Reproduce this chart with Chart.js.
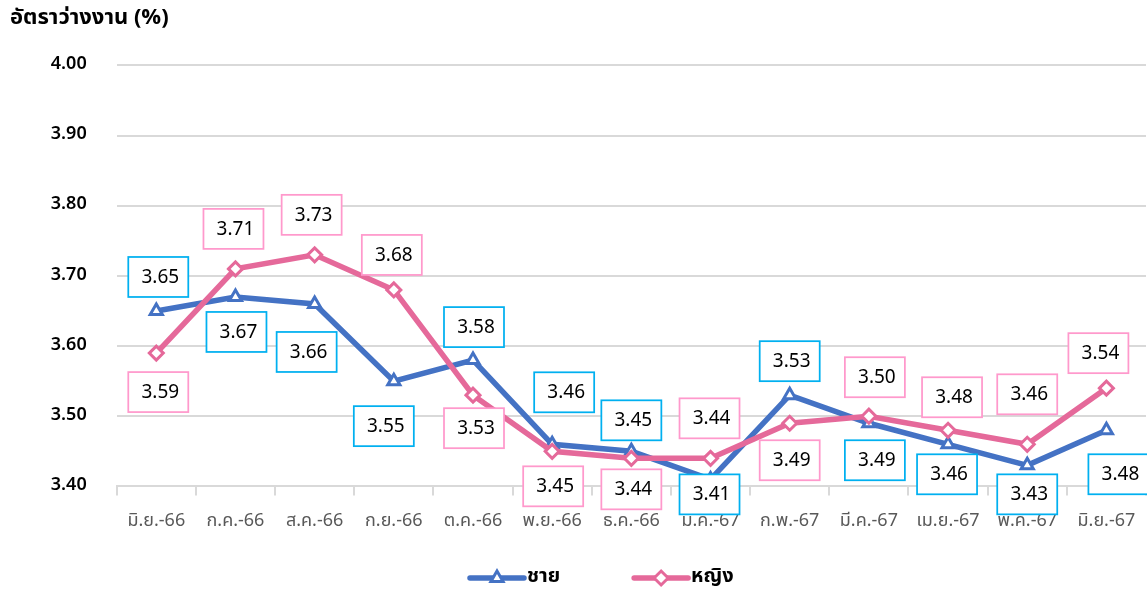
<!DOCTYPE html>
<html>
<head>
<meta charset="utf-8">
<script src="https://cdn.jsdelivr.net/npm/chart.js@4.4.1/dist/chart.umd.min.js"></script>
<style>
  html, body { margin: 0; padding: 0; background: #fff; overflow: hidden; }
  #wrap { width: 1156px; height: 591px; }
</style>
</head>
<body>
<div id="wrap"><canvas id="rateChart"></canvas></div>
<script>
// Unemployment rate by sex, Jun-66 .. Jun-67
const months = ['มิ.ย.-66', 'ก.ค.-66', 'ส.ค.-66', 'ก.ย.-66', 'ต.ค.-66', 'พ.ย.-66', 'ธ.ค.-66',
                'ม.ค.-67', 'ก.พ.-67', 'มี.ค.-67', 'เม.ย.-67', 'พ.ค.-67', 'มิ.ย.-67'];
const maleRates = [3.65, 3.67, 3.66, 3.55, 3.58, 3.46, 3.45, 3.41, 3.53, 3.49, 3.46, 3.43, 3.48];
const femaleRates = [3.59, 3.71, 3.73, 3.68, 3.53, 3.45, 3.44, 3.44, 3.49, 3.50, 3.48, 3.46, 3.54];
const yTicks = [3.40, 3.50, 3.60, 3.70, 3.80, 3.90, 4.00];

// label box offsets from each point (px), as placed in the original
const maleBoxDx = [2, 1, -8, -10, 1, 12, 0, -1, 0, 6, -1, 0, 12];
const maleBoxDy = [-34, 35, 48, 45, -33, -52, -31, 15, -34, 37, 30, 29, 44];
const femaleBoxDx = [2, -2, -3, -2, 1, 1, 0, -1, 0, 6, 4, 0, -8];
const femaleBoxDy = [39, -40, -40, -35, 33, 35, 31, -40, 37, -39, -33, -50, -35];

const FONT = "'Noto Sans Thai', 'Leelawadee UI', Tahoma, 'Noto Sans', sans-serif";
const BLUE = '#4472c4';
const PINK = '#e5699a';

// boxed value labels
const boxLabels = {
    id: 'boxLabels',
    afterDatasetsDraw(chart) {
        const ctx = chart.ctx;
        ctx.save();
        chart.data.datasets.forEach((ds, di) => {
            const meta = chart.getDatasetMeta(di);
            meta.data.forEach((pt, i) => {
                const cx = pt.x + ds.boxDx[i];
                const cy = pt.y + ds.boxDy[i];
                ctx.fillStyle = '#ffffff';
                ctx.strokeStyle = ds.boxColor;
                ctx.lineWidth = 1.75;
                ctx.fillRect(cx - 30, cy - 20, 60, 40);
                ctx.strokeRect(cx - 30, cy - 20, 60, 40);
                ctx.fillStyle = '#000000';
                ctx.font = '19px ' + FONT;
                ctx.textAlign = 'center';
                ctx.textBaseline = 'middle';
                ctx.fillText(ds.data[i].toFixed(2), cx + 2, cy + 2);
            });
        });
        ctx.restore();
    }
};

// legend with line + marker, like the original
const lineLegend = {
    id: 'lineLegend',
    afterDraw(chart) {
        const ctx = chart.ctx;
        const y = 578;
        let x = 470;
        ctx.save();
        chart.data.datasets.forEach(ds => {
            ctx.strokeStyle = ds.borderColor;
            ctx.lineWidth = 5.5;
            ctx.lineCap = 'round';
            ctx.beginPath();
            ctx.moveTo(x, y);
            ctx.lineTo(x + 54, y);
            ctx.stroke();
            ctx.fillStyle = '#ffffff';
            ctx.lineWidth = 3;
            Chart.helpers.drawPoint(ctx, { pointStyle: ds.pointStyle, radius: 7, rotation: 0, borderWidth: 3 }, x + 27, y);
            ctx.fillStyle = '#000000';
            ctx.font = 'bold 20px ' + FONT;
            ctx.textAlign = 'left';
            ctx.textBaseline = 'middle';
            ctx.fillText(ds.label, x + 57, y);
            x += 57 + ctx.measureText(ds.label).width + 74;
        });
        ctx.restore();
    }
};

const ctx = document.getElementById('rateChart').getContext('2d');
new Chart(ctx, {
    type: 'line',
    data: {
        labels: months,
        datasets: [
            {
                label: 'ชาย',
                data: maleRates,
                borderColor: BLUE,
                borderWidth: 5.5,
                pointStyle: 'triangle',
                pointRadius: 7,
                pointBorderWidth: 3,
                pointBackgroundColor: '#ffffff',
                pointBorderColor: BLUE,
                tension: 0,
                order: 1,
                boxColor: '#00b0f0',
                boxDx: maleBoxDx,
                boxDy: maleBoxDy
            },
            {
                label: 'หญิง',
                data: femaleRates,
                borderColor: PINK,
                borderWidth: 5.5,
                pointStyle: 'rectRot',
                pointRadius: 7,
                pointBorderWidth: 3,
                pointBackgroundColor: '#ffffff',
                pointBorderColor: PINK,
                tension: 0,
                order: 0,
                boxColor: '#ff99cc',
                boxDx: femaleBoxDx,
                boxDy: femaleBoxDy
            }
        ]
    },
    options: {
        responsive: true,
        maintainAspectRatio: false,
        animation: false,
        layout: { padding: { left: 10, right: 1, top: 0, bottom: 42 } },
        plugins: {
            legend: { display: false },
            tooltip: { enabled: false },
            title: {
                display: true,
                text: 'อัตราว่างงาน (%)',
                align: 'start',
                color: '#000000',
                font: { family: FONT, size: 22, weight: 'bold' },
                padding: { top: 6, bottom: 33 }
            }
        },
        scales: {
            x: {
                offset: true,
                grid: {
                    offset: true,
                    drawOnChartArea: false,
                    drawTicks: true,
                    tickLength: 9,
                    color: '#d9d9d9',
                    lineWidth: 2
                },
                border: { display: true, color: '#d9d9d9', width: 2 },
                ticks: {
                    color: '#595959',
                    padding: 16,
                    maxRotation: 0,
                    autoSkip: false,
                    font: { family: FONT, size: 18 }
                }
            },
            y: {
                min: 3.40,
                max: 4.00,
                afterBuildTicks: scale => { scale.ticks = yTicks.map(v => ({ value: v })); },
                afterFit: scale => { scale.width = 106.7; },
                grid: { color: '#d9d9d9', lineWidth: 2, drawTicks: false },
                border: { display: false },
                ticks: {
                    padding: 30,
                    color: '#000000',
                    font: { family: FONT, size: 18, weight: '600' },
                    callback: v => Number(v).toFixed(2)
                }
            }
        }
    },
    plugins: [boxLabels, lineLegend]
});
</script>
</body>
</html>
